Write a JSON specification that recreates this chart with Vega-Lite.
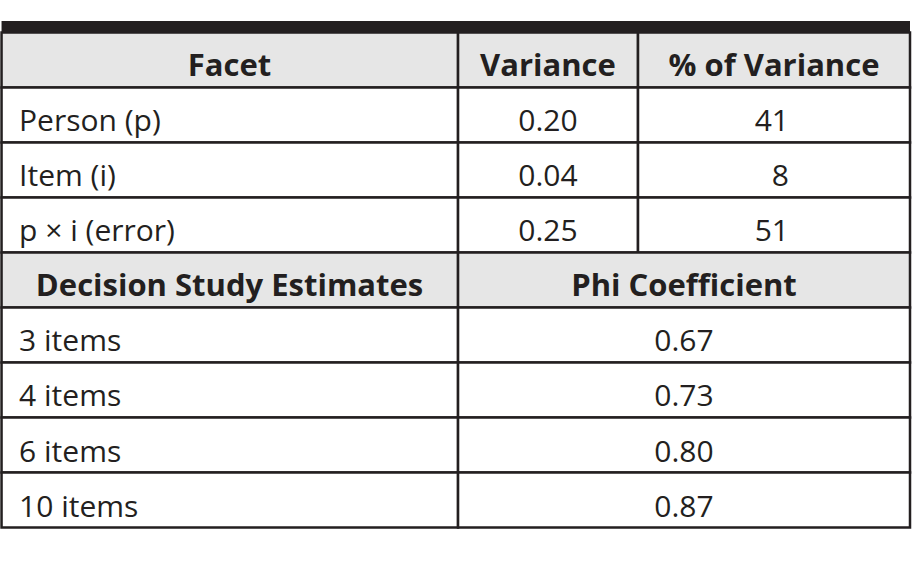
{
  "$schema": "https://vega.github.io/schema/vega-lite/v6.json",
  "width": 913,
  "height": 579,
  "autosize": {"type": "fit", "contains": "padding"},
  "padding": 0,
  "background": "white",
  "config": {"view": {"stroke": null}},
  "datasets": {
    "cells": [
      {"part": "bar", "x0": 0, "x1": 100, "r0": -0.209, "r1": 0},
      {"part": "header", "x0": 0, "x1": 50.25, "r0": 0, "r1": 1},
      {"part": "header", "x0": 50.25, "x1": 70.06, "r0": 0, "r1": 1},
      {"part": "header", "x0": 70.06, "x1": 100, "r0": 0, "r1": 1},
      {"part": "body", "x0": 0, "x1": 50.25, "r0": 1, "r1": 2},
      {"part": "body", "x0": 50.25, "x1": 70.06, "r0": 1, "r1": 2},
      {"part": "body", "x0": 70.06, "x1": 100, "r0": 1, "r1": 2},
      {"part": "body", "x0": 0, "x1": 50.25, "r0": 2, "r1": 3},
      {"part": "body", "x0": 50.25, "x1": 70.06, "r0": 2, "r1": 3},
      {"part": "body", "x0": 70.06, "x1": 100, "r0": 2, "r1": 3},
      {"part": "body", "x0": 0, "x1": 50.25, "r0": 3, "r1": 4},
      {"part": "body", "x0": 50.25, "x1": 70.06, "r0": 3, "r1": 4},
      {"part": "body", "x0": 70.06, "x1": 100, "r0": 3, "r1": 4},
      {"part": "header", "x0": 0, "x1": 50.25, "r0": 4, "r1": 5},
      {"part": "header", "x0": 50.25, "x1": 100, "r0": 4, "r1": 5},
      {"part": "body", "x0": 0, "x1": 50.25, "r0": 5, "r1": 6},
      {"part": "body", "x0": 50.25, "x1": 100, "r0": 5, "r1": 6},
      {"part": "body", "x0": 0, "x1": 50.25, "r0": 6, "r1": 7},
      {"part": "body", "x0": 50.25, "x1": 100, "r0": 6, "r1": 7},
      {"part": "body", "x0": 0, "x1": 50.25, "r0": 7, "r1": 8},
      {"part": "body", "x0": 50.25, "x1": 100, "r0": 7, "r1": 8},
      {"part": "body", "x0": 0, "x1": 50.25, "r0": 8, "r1": 9},
      {"part": "body", "x0": 50.25, "x1": 100, "r0": 8, "r1": 9}
    ],
    "texts": [
      {"t": "Facet", "c": 25.1, "r": 0, "k": "head"},
      {"t": "Variance", "c": 60.15, "r": 0, "k": "head"},
      {"t": "% of Variance", "c": 85.03, "r": 0, "k": "head"},
      {"t": "Decision Study Estimates", "c": 25.1, "r": 4, "k": "head"},
      {"t": "Phi Coefficient", "c": 75.12, "r": 4, "k": "head"},
      {"t": "Person (p)", "c": 1.93, "r": 1, "k": "label"},
      {"t": "Item (i)", "c": 1.93, "r": 2, "k": "label"},
      {"t": "p × i (error)", "c": 1.93, "r": 3, "k": "label"},
      {"t": "3 items", "c": 1.93, "r": 5, "k": "label"},
      {"t": "4 items", "c": 1.93, "r": 6, "k": "label"},
      {"t": "6 items", "c": 1.93, "r": 7, "k": "label"},
      {"t": "10 items", "c": 1.93, "r": 8, "k": "label"},
      {"t": "0.20", "c": 60.15, "r": 1, "k": "value"},
      {"t": "0.04", "c": 60.15, "r": 2, "k": "value"},
      {"t": "0.25", "c": 60.15, "r": 3, "k": "value"},
      {"t": "0.67", "c": 75.12, "r": 5, "k": "value"},
      {"t": "0.73", "c": 75.12, "r": 6, "k": "value"},
      {"t": "0.80", "c": 75.12, "r": 7, "k": "value"},
      {"t": "0.87", "c": 75.12, "r": 8, "k": "value"},
      {"t": "41", "c": 86.68, "r": 1, "k": "pct"},
      {"t": "8", "c": 86.68, "r": 2, "k": "pct"},
      {"t": "51", "c": 86.68, "r": 3, "k": "pct"}
    ]
  },
  "layer": [
    {
      "data": {"name": "cells"},
      "transform": [{"filter": "datum.part != 'bar'"}],
      "mark": {"type": "rect", "stroke": "#231f20", "strokeWidth": 2.5},
      "encoding": {
        "x": {"field": "x0", "type": "quantitative", "scale": {"domain": [-0.17, 100.33], "nice": false, "zero": false}, "axis": null},
        "x2": {"field": "x1"},
        "y": {"field": "r0", "type": "quantitative", "scale": {"domain": [-0.59, 9.936], "nice": false, "zero": false, "reverse": true}, "axis": null},
        "y2": {"field": "r1"},
        "fill": {"field": "part", "type": "nominal", "scale": {"domain": ["header", "body"], "range": ["#e6e6e6", "#ffffff"]}, "legend": null}
      }
    },
    {
      "data": {"name": "cells"},
      "transform": [{"filter": "datum.part == 'bar'"}],
      "mark": {"type": "rect", "color": "#231f20"},
      "encoding": {
        "x": {"field": "x0", "type": "quantitative"},
        "x2": {"field": "x1"},
        "y": {"field": "r0", "type": "quantitative"},
        "y2": {"field": "r1"}
      }
    },
    {
      "data": {"name": "texts"},
      "transform": [{"filter": "datum.k == 'head'"}],
      "mark": {"type": "text", "font": "Open Sans", "fontWeight": "bold", "fontSize": 31, "align": "center", "baseline": "alphabetic", "dy": 44, "color": "#231f20"},
      "encoding": {
        "x": {"field": "c", "type": "quantitative"},
        "y": {"field": "r", "type": "quantitative"},
        "text": {"field": "t"}
      }
    },
    {
      "data": {"name": "texts"},
      "transform": [{"filter": "datum.k == 'label'"}],
      "mark": {"type": "text", "font": "Open Sans", "fontSize": 30, "align": "left", "baseline": "alphabetic", "dy": 44, "color": "#231f20"},
      "encoding": {
        "x": {"field": "c", "type": "quantitative"},
        "y": {"field": "r", "type": "quantitative"},
        "text": {"field": "t"}
      }
    },
    {
      "data": {"name": "texts"},
      "transform": [{"filter": "datum.k == 'value'"}],
      "mark": {"type": "text", "font": "Open Sans", "fontSize": 30, "align": "center", "baseline": "alphabetic", "dy": 44, "color": "#231f20"},
      "encoding": {
        "x": {"field": "c", "type": "quantitative"},
        "y": {"field": "r", "type": "quantitative"},
        "text": {"field": "t"}
      }
    },
    {
      "data": {"name": "texts"},
      "transform": [{"filter": "datum.k == 'pct'"}],
      "mark": {"type": "text", "font": "Open Sans", "fontSize": 30, "align": "right", "baseline": "alphabetic", "dy": 44, "color": "#231f20"},
      "encoding": {
        "x": {"field": "c", "type": "quantitative"},
        "y": {"field": "r", "type": "quantitative"},
        "text": {"field": "t"}
      }
    }
  ]
}
